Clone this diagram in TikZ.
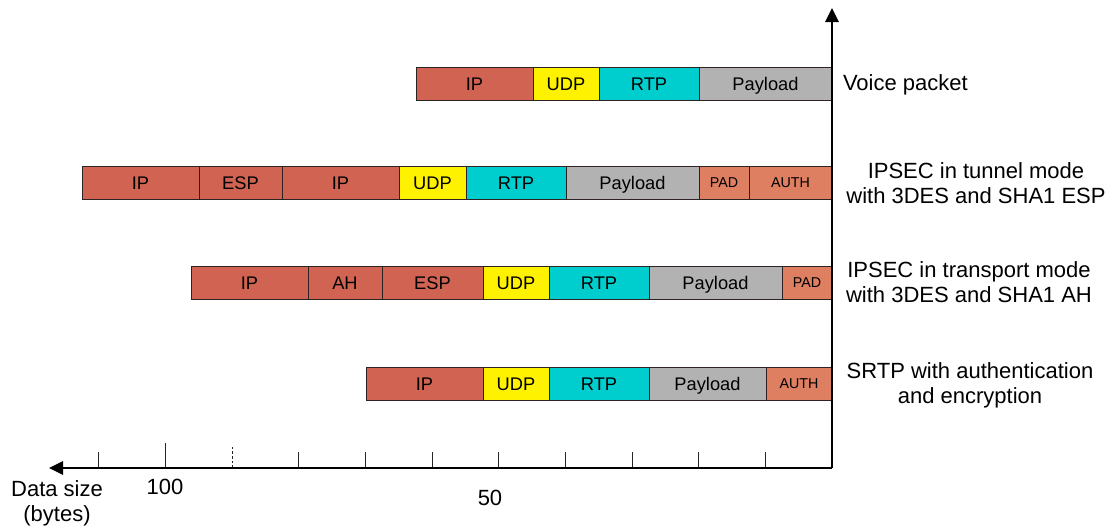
\documentclass[tikz,border=0pt]{standalone}
\usepackage{fontspec}
\setmainfont{Liberation Sans}
\usetikzlibrary{positioning, arrows.meta}
\definecolor{ipred}{RGB}{209,99,82}
\definecolor{padorange}{RGB}{223,127,98}
\definecolor{rtpcyan}{RGB}{0,206,206}
\definecolor{loadgray}{RGB}{178,178,178}
\definecolor{edgedark}{RGB}{45,35,35}
\tikzset{
    every node/.style={inner sep=0pt, outer sep=0pt},
    field/.style={draw=edgedark, line width=0.75pt, minimum height=24.75pt,
        text height=9.8pt, text depth=0pt, font=\fontsize{13.7}{16}\selectfont},
    wd/.style={minimum width=#1*0.75pt},
    ip/.style={field, fill=ipred},
    udp/.style={field, fill=yellow},
    rtp/.style={field, fill=rtpcyan},
    payload/.style={field, fill=loadgray},
    trailer/.style={field, fill=padorange, text height=7.7pt,
        font=\fontsize{10.7}{12}\selectfont},
    rowtext/.style={font=\fontsize{16.5}{18.75}\selectfont, align=center},
    axis/.style={line width=1.6pt, -{Triangle[length=10.5pt, width=10pt]}},
    tick/.style={line width=0.75pt, draw=black!85},
}

\begin{document}
\begin{tikzpicture}[x=0.75pt, y=-0.75pt]
    \useasboundingbox (0,0) rectangle (1115,526);

    % plain voice packet
    \node[ip, wd=117, anchor=north west] (voiceIP) at (416,67) {IP};
    \node[udp, wd=66, right=0pt of voiceIP] (voiceUDP) {UDP};
    \node[rtp, wd=100, right=0pt of voiceUDP] (voiceRTP) {RTP};
    \node[payload, wd=133, right=0pt of voiceRTP] (voicePay) {Payload};

    % tunnel mode
    \node[ip, wd=117, anchor=north west] (tunIP) at (82,166) {IP};
    \node[ip, wd=83, right=0pt of tunIP] (tunESP) {ESP};
    \node[ip, wd=117, right=0pt of tunESP] (tunInIP) {IP};
    \node[udp, wd=67, right=0pt of tunInIP] (tunUDP) {UDP};
    \node[rtp, wd=100, right=0pt of tunUDP] (tunRTP) {RTP};
    \node[payload, wd=133, right=0pt of tunRTP] (tunPay) {Payload};
    \node[trailer, wd=50, right=0pt of tunPay] (tunPAD) {PAD};
    \node[trailer, wd=83, right=0pt of tunPAD] (tunAUTH) {AUTH};

    % transport mode
    \node[ip, wd=117, anchor=north west] (trIP) at (191,266) {IP};
    \node[ip, wd=74, right=0pt of trIP] (trAH) {AH};
    \node[ip, wd=101, right=0pt of trAH] (trESP) {ESP};
    \node[udp, wd=66, right=0pt of trESP] (trUDP) {UDP};
    \node[rtp, wd=100, right=0pt of trUDP] (trRTP) {RTP};
    \node[payload, wd=133, right=0pt of trRTP] (trPay) {Payload};
    \node[trailer, wd=50, right=0pt of trPay] (trPAD) {PAD};

    % srtp
    \node[ip, wd=117, anchor=north west] (srIP) at (366,367) {IP};
    \node[udp, wd=66, right=0pt of srIP] (srUDP) {UDP};
    \node[rtp, wd=100, right=0pt of srUDP] (srRTP) {RTP};
    \node[payload, wd=117, right=0pt of srRTP] (srPay) {Payload};
    \node[trailer, wd=66, right=0pt of srPay] (srAUTH) {AUTH};

    \node[rowtext, anchor=base west] (voiceTxt) at (843,90) {Voice packet};
    \node[rowtext, anchor=north] (tunTxt) at (976,163) {IPSEC in tunnel mode\\with 3DES and SHA1 ESP};
    \node[rowtext, anchor=north] (trTxt) at (969,262) {IPSEC in transport mode\\with 3DES and SHA1 AH};
    \node[rowtext, anchor=north] (srTxt) at (970,363) {SRTP with authentication\\and encryption};

    % axes
    \coordinate (o) at (832,468);
    \coordinate (xend) at (49,468);
    \coordinate (yend) at (832,8);
    \foreach \k in {1,...,8,11}
        \draw[tick] ([xshift=-\k*50pt]o) -- ++(0,-16);
    \draw[tick] ([xshift=-500pt]o) -- ++(0,-25);
    \draw[tick, line width=0.5pt, dashed, dash pattern=on 2pt off 1.5pt] ([xshift=-450pt]o) -- ++(0,-22);
    \draw[axis] (o) -- (xend);
    \draw[axis] (o) -- (yend);

    \node[rowtext, anchor=north] (hundred) at (165,479) {100};
    \node[rowtext, anchor=north] (fifty) at (490,490) {50};
    \node[rowtext, anchor=north] (xname) at (57,481) {Data size\\(bytes)};
\end{tikzpicture}
\end{document}
